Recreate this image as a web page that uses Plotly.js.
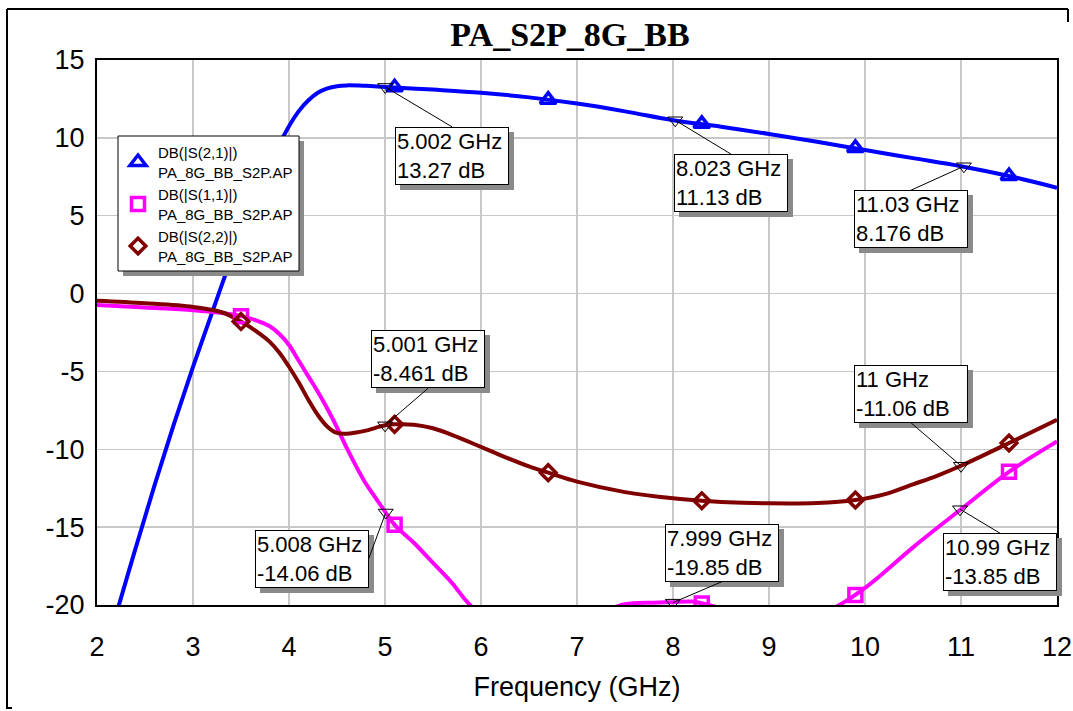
<!DOCTYPE html>
<html>
<head>
<meta charset="utf-8">
<script src="https://cdn.plot.ly/plotly-3.0.1.min.js"></script>
<style>html,body{margin:0;padding:0;background:#fff;}#chart{width:1073px;height:711px;}</style>
</head>
<body>
<div id="chart"></div>
<script>
// ---- data ----
var chartTitle = "PA_S2P_8G_BB";
var xTitle = "Frequency (GHz)";
var seriesNames = ["DB(|S(2,1)|)<br>PA_8G_BB_S2P.AP", "DB(|S(1,1)|)<br>PA_8G_BB_S2P.AP", "DB(|S(2,2)|)<br>PA_8G_BB_S2P.AP"];

var xTickVals = [2, 3, 4, 5, 6, 7, 8, 9, 10, 11, 12];
var xTickText = ["2", "3", "4", "5", "6", "7", "8", "9", "10", "11", "12"];
var yTickVals = [-20, -15, -10, -5, 0, 5, 10, 15];
var yTickText = ["-20", "-15", "-10", "-5", "0", "5", "10", "15"];

var f21 = [2.15, 2.2, 2.4, 2.6, 2.8, 3.0, 3.2, 3.4, 3.5, 3.6, 3.7, 3.8, 3.9, 4.0, 4.1, 4.2, 4.3, 4.4, 4.5, 4.6, 4.8, 5.0, 5.5, 6.0, 6.5, 7.0, 7.5, 8.0, 8.5, 9.0, 9.5, 10.0, 10.5, 11.0, 11.5, 12.0];
var s21 = [-21.7, -20.6, -16.4, -12.3, -8.4, -4.7, -1.2, 2.3, 4.0, 5.6, 7.1, 8.4, 9.6, 10.75, 11.7, 12.4, 12.9, 13.18, 13.32, 13.37, 13.34, 13.27, 13.1, 12.9, 12.6, 12.2, 11.7, 11.13, 10.72, 10.25, 9.75, 9.22, 8.7, 8.18, 7.55, 6.8];

var f11 = [2.0, 2.5, 3.0, 3.3, 3.5, 3.65, 3.8, 3.9, 4.0, 4.1, 4.2, 4.3, 4.4, 4.5, 4.6, 4.7, 4.8, 4.9, 5.0, 5.1, 5.3, 5.5, 5.7, 5.87, 6.2, 6.6, 7.0, 7.3, 7.5, 7.8, 8.0, 8.2, 8.4, 8.7, 9.0, 9.3, 9.6, 9.8, 10.0, 10.2, 10.5, 11.0, 11.5, 12.0];
var s11 = [-0.74, -0.9, -1.07, -1.25, -1.45, -1.7, -2.1, -2.6, -3.3, -4.3, -5.3, -6.3, -7.4, -8.6, -9.9, -11.1, -12.2, -13.1, -14.0, -14.85, -16.0, -17.3, -18.6, -19.9, -21.6, -22.4, -21.5, -20.4, -19.95, -19.85, -19.82, -19.78, -20.05, -20.6, -20.9, -20.8, -20.4, -19.75, -18.9, -17.9, -16.3, -13.85, -11.45, -9.5];

var f22 = [2.0, 2.5, 3.0, 3.3, 3.5, 3.7, 3.8, 3.9, 4.0, 4.1, 4.2, 4.3, 4.4, 4.5, 4.6, 4.7, 4.8, 5.0, 5.1, 5.3, 5.5, 5.75, 6.0, 6.25, 6.5, 6.7, 7.0, 7.5, 8.0, 8.3, 8.5, 9.0, 9.5, 9.9, 10.2, 10.5, 10.75, 11.0, 11.5, 12.0];
var s22 = [-0.46, -0.62, -0.86, -1.2, -1.8, -2.6, -3.1, -3.8, -4.7, -5.7, -6.8, -7.8, -8.55, -8.95, -9.0, -8.92, -8.8, -8.46, -8.4, -8.42, -8.65, -9.2, -9.85, -10.5, -11.1, -11.5, -12.08, -12.75, -13.15, -13.3, -13.38, -13.47, -13.45, -13.26, -12.9, -12.25, -11.7, -11.06, -9.6, -8.1];

// symbol markers along the traces
var mkF = [3.5, 5.1, 6.7, 8.3, 9.9, 11.5];
var mk21 = [4.0, 13.25, 12.45, 10.9, 9.35, 7.55];
var mk11 = [-1.45, -14.85, -22.2, -19.9, -19.35, -11.45];
var mk22 = [-1.8, -8.4, -11.5, -13.3, -13.26, -9.6];

// data markers (frequency GHz, value dB) and their labels
var dmF = [5.002, 8.023, 11.03, 5.001, 11, 5.008, 7.999, 10.99];
var dmY = [13.27, 11.13, 8.176, -8.461, -11.06, -14.06, -19.85, -13.85];
var dmLbl = ["5.002", "8.023", "11.03", "5.001", "11", "5.008", "7.999", "10.99"];
var dmVal = ["13.27", "11.13", "8.176", "-8.461", "-11.06", "-14.06", "-19.85", "-13.85"];

// ---- styling ----
var FONT = "Liberation Sans, Arial, sans-serif";
var colors = ["#0000ff", "#ff00ff", "#800000"];
var symbols = ["triangle-up-open", "square-open", "diamond-open"];
var msizes = [14, 13, 12];

var lineX = [f21, f11, f22], lineY = [s21, s11, s22], mkY = [mk21, mk11, mk22];
var traces = [];
for (var i = 0; i < 3; i++) {
  traces.push({x: lineX[i], y: lineY[i], type: "scatter", mode: "lines",
    line: {color: colors[i], width: 4, shape: "spline", smoothing: 1}, showlegend: false, hoverinfo: "skip"});
}
for (var i = 0; i < 3; i++) {
  traces.push({x: mkF, y: mkY[i], type: "scatter", mode: "markers", name: seriesNames[i],
    marker: {symbol: symbols[i], size: msizes[i], color: colors[i], line: {color: colors[i], width: 3.5}}});
}
traces.push({x: dmF, y: dmY, type: "scatter", mode: "markers", showlegend: false,
  marker: {symbol: "triangle-down-open", size: 13, color: "#000", line: {color: "#000", width: 1}}});

// label placement (pixel offsets of box anchor from the marked point)
var lblAx = [67, 56, -53, 43, -50, -17, 49, 40];
var lblAy = [40, 34, 24, -37, -43, 46, -21, 24];
var lblXa = ["center", "center", "center", "center", "center", "right", "center", "center"];
var lblYa = ["top", "top", "top", "bottom", "bottom", "middle", "bottom", "top"];

var annotations = [];
for (var k = 0; k < dmF.length; k++) {
  var txt = dmLbl[k] + " GHz<br>" + dmVal[k] + " dB";
  var base = {x: dmF[k], y: dmY[k], xref: "x", yref: "y", text: txt, showarrow: true,
    ax: lblAx[k], ay: lblAy[k], axref: "pixel", ayref: "pixel", arrowhead: 0,
    xanchor: lblXa[k], yanchor: lblYa[k], align: "left", width: 110, height: 54, borderpad: 1,
    font: {family: FONT, size: 22, color: "#000"}};
  var sh = JSON.parse(JSON.stringify(base));
  sh.text = "&nbsp;";
  sh.xshift = 5; sh.yshift = -5; sh.bgcolor = "#8a8a8a"; sh.bordercolor = "#8a8a8a"; sh.borderwidth = 1;
  sh.arrowcolor = "rgba(0,0,0,0)"; sh.arrowwidth = 0.5;
  var fg = base;
  fg.bgcolor = "#ffffff"; fg.bordercolor = "#000"; fg.borderwidth = 1; fg.arrowcolor = "#000"; fg.arrowwidth = 1;
  annotations.push(sh);
  annotations.push(fg);
}

function px2x(p) { return (p - 97) / 960; }
function py2y(p) { return (605 - p) / 545; }
var shapes = [
  {type: "line", xref: "paper", yref: "paper", x0: px2x(7), x1: px2x(7), y0: py2y(9), y1: py2y(709), line: {color: "#000", width: 2}},
  {type: "line", xref: "paper", yref: "paper", x0: px2x(7), x1: px2x(1068), y0: py2y(9), y1: py2y(9), line: {color: "#000", width: 2}},
  {type: "line", xref: "paper", yref: "paper", x0: px2x(1068), x1: px2x(1068), y0: py2y(9), y1: py2y(22), line: {color: "#000", width: 2}},
  {type: "line", xref: "paper", yref: "paper", x0: px2x(7), x1: px2x(12), y0: py2y(708), y1: py2y(708), line: {color: "#000", width: 2}},
  // legend panel: shadow and box
  {type: "rect", xref: "paper", yref: "paper", x0: px2x(123), x1: px2x(304), y0: py2y(141), y1: py2y(276), fillcolor: "#8a8a8a", line: {width: 0}, layer: "above"},
  {type: "rect", xref: "paper", yref: "paper", x0: px2x(118), x1: px2x(299), y0: py2y(136), y1: py2y(271), fillcolor: "#ffffff", line: {color: "#000", width: 1}, layer: "above"}
];

var axisCommon = {showgrid: true, gridcolor: "#c8c8c8", gridwidth: 1.5, showline: true, linecolor: "#000", linewidth: 2,
  mirror: true, ticks: "", zeroline: false, tickmode: "array", tickfont: {family: FONT, size: 27, color: "#000"}};

var layout = {
  width: 1073, height: 711,
  margin: {l: 97, r: 16, t: 60, b: 106},
  paper_bgcolor: "#fff", plot_bgcolor: "#fff",
  title: {text: chartTitle, x: px2x(570), xref: "paper", xanchor: "center", y: 1 - 34 / 711, yref: "container", yanchor: "middle",
    font: {family: "Liberation Serif, Times New Roman, serif", size: 34, weight: "bold", color: "#000"}},
  xaxis: Object.assign({}, axisCommon, {range: [2, 12], tickvals: xTickVals, ticktext: xTickText, ticklabelstandoff: 17,
    title: {text: xTitle, font: {family: FONT, size: 27, color: "#000"}, standoff: 16}}),
  yaxis: Object.assign({}, axisCommon, {range: [-20, 15], tickvals: yTickVals, ticktext: yTickText, ticklabelstandoff: 5}),
  showlegend: true,
  legend: {x: px2x(118), y: py2y(136), xanchor: "left", yanchor: "top", bgcolor: "rgba(0,0,0,0)", borderwidth: 0,
    font: {family: FONT, size: 15, color: "#000"}, tracegroupgap: 0, itemwidth: 30},
  annotations: annotations,
  shapes: shapes
};

Plotly.newPlot("chart", traces, layout, {staticPlot: true});
</script>
</body>
</html>
